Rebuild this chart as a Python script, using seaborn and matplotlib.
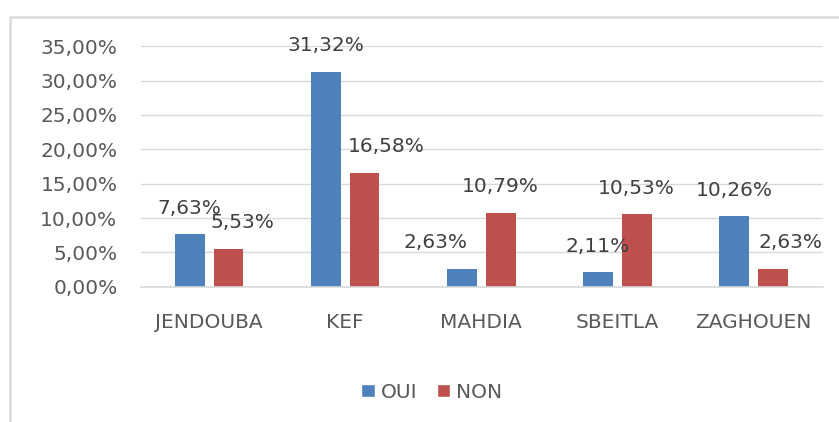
import matplotlib
matplotlib.use("Agg")
import matplotlib.pyplot as plt
from matplotlib.patches import Rectangle, Patch
from matplotlib.ticker import FuncFormatter, MultipleLocator
import seaborn as sns
import pandas as pd

# Survey results by site (percent)
sites = ["JENDOUBA", "KEF", "MAHDIA", "SBEITLA", "ZAGHOUEN"]
oui = [7.63, 31.32, 2.63, 2.11, 10.26]
non = [5.53, 16.58, 10.79, 10.53, 2.63]
series = ["OUI", "NON"]

BLUE = "#4F81BD"
RED = "#C0504D"
GRID = "#D9D9D9"
TICK_TXT = "#595959"
LABEL_TXT = "#404040"
FS = 14.5

df = pd.DataFrame({
    "site": sites * 2,
    "reponse": ["OUI"] * len(sites) + ["NON"] * len(sites),
    "valeur": oui + non,
})

sns.set_theme(style="white")
plt.rcParams["font.family"] = ["DejaVu Sans"]

fig = plt.figure(figsize=(8.39, 4.22), dpi=100)
ax = fig.add_axes([141 / 839, 1 - 286.7 / 422, (823 - 141) / 839, (286.7 - 46.3) / 422])

sns.barplot(data=df, x="site", y="valeur", hue="reponse", hue_order=series,
            palette=[BLUE, RED], width=0.57, gap=0.23, saturation=1,
            linewidth=0, legend=False, ax=ax)

ax.set_ylim(0, 35)
ax.set_xlim(-0.5, 4.5 + (823 - 821.5) / 136)
ax.yaxis.set_major_locator(MultipleLocator(5))
ax.yaxis.set_major_formatter(FuncFormatter(lambda v, p: f"{v:.2f}%".replace(".", ",")))
ax.grid(axis="y", color=GRID, linewidth=1)
ax.set_axisbelow(True)
for s in ["top", "right", "left"]:
    ax.spines[s].set_visible(False)
ax.spines["bottom"].set_color(GRID)
ax.spines["bottom"].set_linewidth(1.2)
ax.set_xlabel("")
ax.set_ylabel("")
ax.tick_params(axis="y", length=0, pad=17, labelsize=FS, labelcolor=TICK_TXT)
ax.tick_params(axis="x", length=0, pad=19, labelsize=FS, labelcolor=TICK_TXT)

# data labels, a few nudged sideways to keep them clear of neighbours
nudge_px = {("OUI", "MAHDIA"): -26, ("NON", "JENDOUBA"): 14,
            ("NON", "KEF"): 22, ("NON", "ZAGHOUEN"): 18}
for name, values, cont in zip(series, [oui, non], ax.containers):
    for site, v, bar in zip(sites, values, cont):
        dx = nudge_px.get((name, site), 0) * 0.72
        ax.annotate(f"{v:.2f}%".replace(".", ","),
                    xy=(bar.get_x() + bar.get_width() / 2, v),
                    xytext=(dx, 26 * 0.72), textcoords="offset points",
                    ha="center", va="center", fontsize=FS, color=LABEL_TXT,
                    annotation_clip=False)

handles = [Patch(facecolor=BLUE, label="OUI"), Patch(facecolor=RED, label="NON")]
fig.legend(handles=handles, loc="center", bbox_to_anchor=(432 / 839, 1 - 392 / 422),
           ncol=2, frameon=False, fontsize=FS, labelcolor=TICK_TXT,
           handlelength=0.65, handleheight=0.65, handletextpad=0.3, columnspacing=1.0)

# chart frame
fig.add_artist(Rectangle((10 / 839, -0.1), 1.2, 1.1 - 17 / 422,
                         transform=fig.transFigure, facecolor="none",
                         edgecolor=GRID, linewidth=1.8, clip_on=False))

fig.savefig("out.png", dpi=100)
